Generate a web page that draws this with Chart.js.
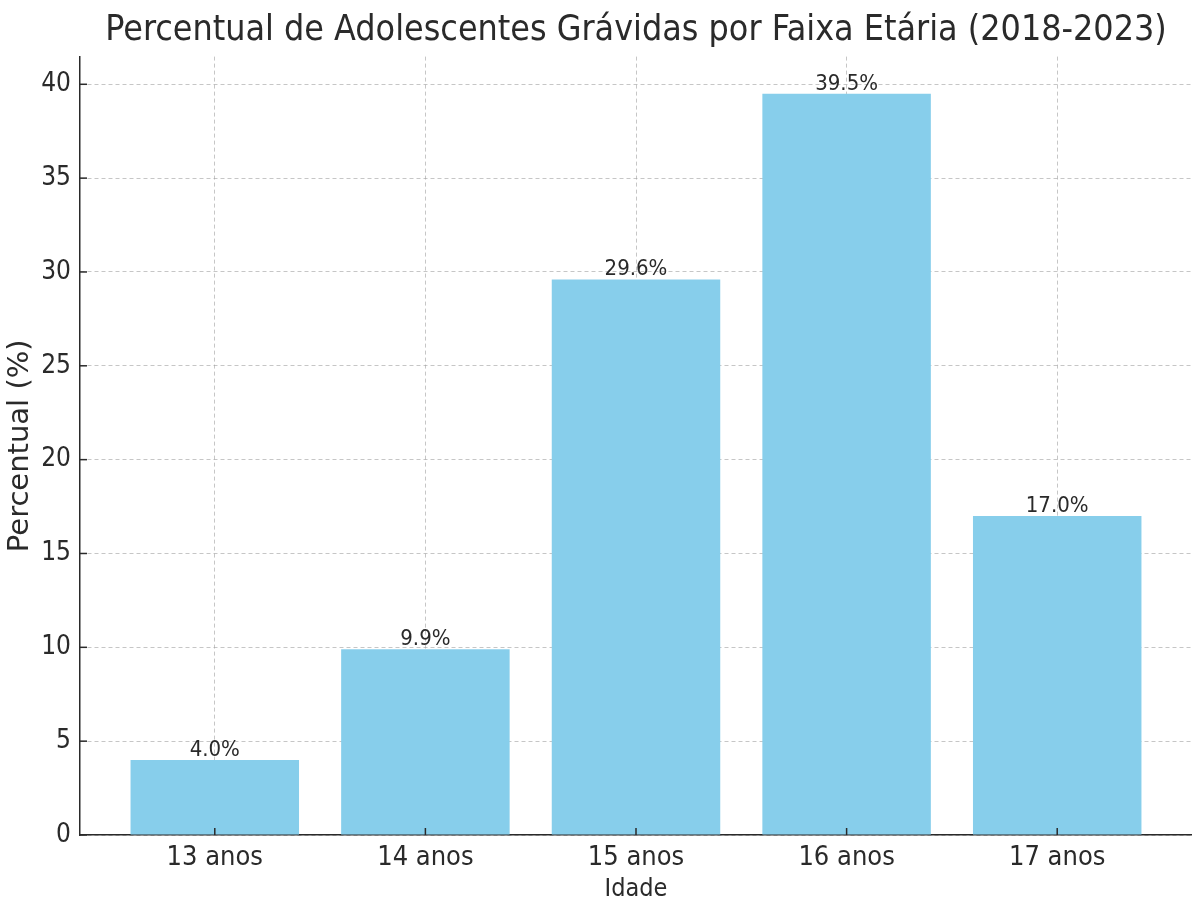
<!DOCTYPE html>
<html><head><meta charset="utf-8">
<script src="https://cdn.jsdelivr.net/npm/chart.js@4.4.1/dist/chart.umd.min.js"></script>
<style>html,body{margin:0;padding:0;background:#fff}#w{width:1192px;height:904px}</style>
</head><body><div id="w"><canvas id="c" width="1192" height="904"></canvas></div>
<script>
const categories = ["13 anos", "14 anos", "15 anos", "16 anos", "17 anos"];
const percentValues = [4.0, 9.9, 29.6, 39.5, 17.0];
const yTickValues = [0, 5, 10, 15, 20, 25, 30, 35, 40];
const chartTitle = "Percentual de Adolescentes Grávidas por Faixa Etária (2018-2023)";
const xTitle = "Idade";
const yTitle = "Percentual (%)";

const FONT = "'DejaVu Sans Condensed','DejaVu Sans',sans-serif";
const FONT_REG = "'DejaVu Sans',sans-serif";
const TXT = '#2a2a2a';
const GRID = 'rgba(160,160,160,0.6)';

const innerTicks = {
  id: 'innerTicks',
  afterDraw(chart) {
    const ctx = chart.ctx, x = chart.scales.x, y = chart.scales.y;
    ctx.save();
    ctx.strokeStyle = '#2a2a2a'; ctx.lineWidth = 1.5; ctx.setLineDash([]);
    yTickValues.forEach(v => { const py = y.getPixelForValue(v); ctx.beginPath(); ctx.moveTo(x.left, py); ctx.lineTo(x.left + 7, py); ctx.stroke(); });
    categories.forEach((c, i) => { const px = x.getPixelForValue(i); ctx.beginPath(); ctx.moveTo(px, y.bottom); ctx.lineTo(px, y.bottom - 7); ctx.stroke(); });
    ctx.restore();
  }
};
const barLabels = {
  id: 'barLabels',
  afterDatasetsDraw(chart) {
    const ctx = chart.ctx, meta = chart.getDatasetMeta(0);
    ctx.save();
    ctx.font = "22px " + FONT; ctx.fillStyle = TXT; ctx.textAlign = 'center'; ctx.textBaseline = 'alphabetic';
    meta.data.forEach((el, i) => { ctx.fillText(percentValues[i].toFixed(1) + '%', el.x, el.y - 4); });
    ctx.restore();
  }
};

new Chart(document.getElementById('c'), {
  type: 'bar',
  data: { datasets: [{ data: percentValues.map((v, i) => ({ x: i, y: v })), backgroundColor: '#87CEEB', borderWidth: 0, barPercentage: 0.8, categoryPercentage: 1.0 }] },
  options: {
    responsive: false, animation: false,
    layout: { padding: { left: 0, right: 0, top: 0, bottom: 0 } },
    plugins: {
      legend: { display: false }, tooltip: { enabled: false },
      title: { display: true, fullSize: false, text: chartTitle, color: TXT, font: { family: FONT, size: 35.5, weight: 'normal' }, padding: { top: 9, bottom: 5 } }
    },
    scales: {
      x: {
        type: 'linear', min: -0.64, max: 4.64, z: 1, offset: false,
        afterBuildTicks: s => { s.ticks = categories.map((c, i) => ({ value: i })); },
        afterFit: s => { s.height = 69; },
        ticks: { callback: (v) => categories[v], color: TXT, font: { family: FONT, size: 27 }, padding: 7, maxRotation: 0, autoSkip: false },
        grid: { color: GRID, lineWidth: 1, offset: false, drawTicks: false, tickLength: 0 },
        border: { display: true, color: '#2a2a2a', width: 1.5, dash: [4, 3] },
        title: { display: true, text: xTitle, color: TXT, font: { family: FONT, size: 25 }, padding: { top: -2, bottom: 0 } }
      },
      y: {
        min: 0, max: 41.475, z: 1,
        afterBuildTicks: s => { s.ticks = yTickValues.map(v => ({ value: v })); },
        afterFit: s => { s.width = 80; },
        ticks: { color: TXT, font: { family: FONT, size: 26 }, padding: 9 },
        grid: { color: GRID, lineWidth: 1, drawTicks: false, tickLength: 0 },
        border: { display: true, color: '#2a2a2a', width: 1.5, dash: [4, 3] },
        title: { display: true, text: yTitle, color: TXT, font: { family: FONT_REG, size: 29 }, padding: { top: 3, bottom: 0 } }
      }
    }
  },
  plugins: [innerTicks, barLabels]
});
</script></body></html>
